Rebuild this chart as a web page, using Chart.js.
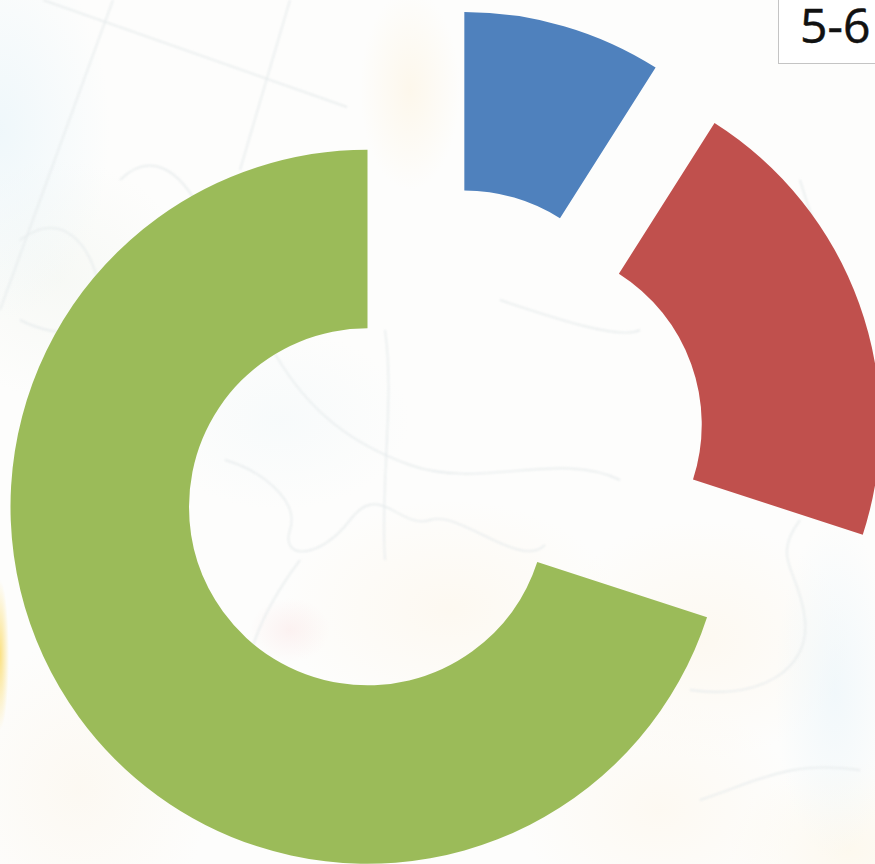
<!DOCTYPE html>
<html>
<head>
<meta charset="utf-8">
<script src="https://cdn.jsdelivr.net/npm/chart.js@4"></script>
<style>
html,body{margin:0;padding:0;width:875px;height:864px;overflow:hidden}
body{position:relative;background-color:#fdfdfc;background-image:
 radial-gradient(ellipse 9px 75px at 0px 655px,rgba(250,220,110,.85),rgba(250,220,110,0) 100%),
 radial-gradient(ellipse 110px 190px at 0px 130px,rgba(228,243,250,.55),rgba(228,243,250,0) 100%),
 radial-gradient(ellipse 50px 100px at 410px 90px,rgba(253,242,220,.5),rgba(253,242,220,0) 100%),
 radial-gradient(ellipse 60px 170px at 835px 690px,rgba(232,244,250,.55),rgba(232,244,250,0) 100%),
 radial-gradient(ellipse 40px 32px at 290px 630px,rgba(250,225,225,.4),rgba(250,225,225,0) 100%),
 radial-gradient(ellipse 170px 110px at 450px 610px,rgba(253,246,234,.6),rgba(253,246,234,0) 100%),
 radial-gradient(ellipse 150px 120px at 700px 640px,rgba(253,245,232,.55),rgba(253,245,232,0) 100%),
 radial-gradient(ellipse 140px 110px at 660px 810px,rgba(253,246,234,.55),rgba(253,246,234,0) 100%),
 radial-gradient(ellipse 120px 90px at 850px 850px,rgba(253,246,230,.6),rgba(253,246,230,0) 100%),
 radial-gradient(ellipse 130px 150px at 80px 790px,rgba(252,247,238,.7),rgba(252,247,238,0) 100%),
 radial-gradient(ellipse 130px 90px at 280px 420px,rgba(242,248,250,.5),rgba(242,248,250,0) 100%),
 radial-gradient(ellipse 130px 120px at 60px 280px,rgba(243,246,241,.6),rgba(243,246,241,0) 100%)}
svg,canvas{position:absolute;left:0;top:0}
svg{filter:blur(.8px)}
#tag{position:absolute;left:778px;top:-1px;width:97px;height:65px;box-sizing:border-box;background:#fff;border:1px solid #c4c4c4;border-right:none;font:48px "Open Sans",sans-serif;color:#111;line-height:50px;padding-left:21px;white-space:nowrap;-webkit-text-stroke:.5px #111}
</style>
</head>
<body>
<svg width="875" height="864" fill="none" stroke="#e6ebec" stroke-width="1.4">
 <path d="M43 0L347 107M113 0L0 310M290 0L240 170"/>
 <path d="M270 345C300 400 340 440 410 465S560 450 620 480"/>
 <path d="M225 460C260 470 300 500 290 530S320 560 350 520 400 530 430 520 520 570 545 545"/>
 <path d="M385 330C395 400 380 480 385 560M300 560C270 600 250 640 245 680"/>
 <path d="M690 690C760 700 810 670 805 620S770 560 800 520M700 800C760 780 790 760 860 770"/>
 <path d="M20 240C60 210 90 240 100 290S60 340 20 320M120 180C150 150 180 170 200 210"/>
 <path d="M500 300C560 320 620 340 640 330M800 180C830 280 860 320 870 420"/>
</svg>
<canvas id="c" width="875" height="864"></canvas>
<div id="tag">5-6</div>
<script>
const categories = ["A", "B", "C"];
const seriesValues = [9, 21, 70];
const sliceColors = ["#4F81BD", "#C0504D", "#9BBB59"];
const explodeDistance = 89;

const explodePlugin = {
  id: "explode",
  afterDatasetsUpdate(chart) {
    chart.getDatasetMeta(0).data.forEach(function (arc) {
      const mid = (arc.startAngle + arc.endAngle) / 2;
      arc.x += Math.cos(mid) * explodeDistance;
      arc.y += Math.sin(mid) * explodeDistance;
    });
  }
};

new Chart(document.getElementById("c"), {
  type: "doughnut",
  data: {
    labels: categories,
    datasets: [{
      data: seriesValues,
      backgroundColor: sliceColors,
      borderWidth: 0,
      clip: false
    }]
  },
  options: {
    responsive: false,
    animation: false,
    events: [],
    radius: 357,
    cutout: "50%",
    layout: { padding: { left: 4, top: 45 } },
    plugins: { legend: { display: false }, tooltip: { enabled: false } }
  },
  plugins: [explodePlugin]
});
</script>
</body>
</html>
